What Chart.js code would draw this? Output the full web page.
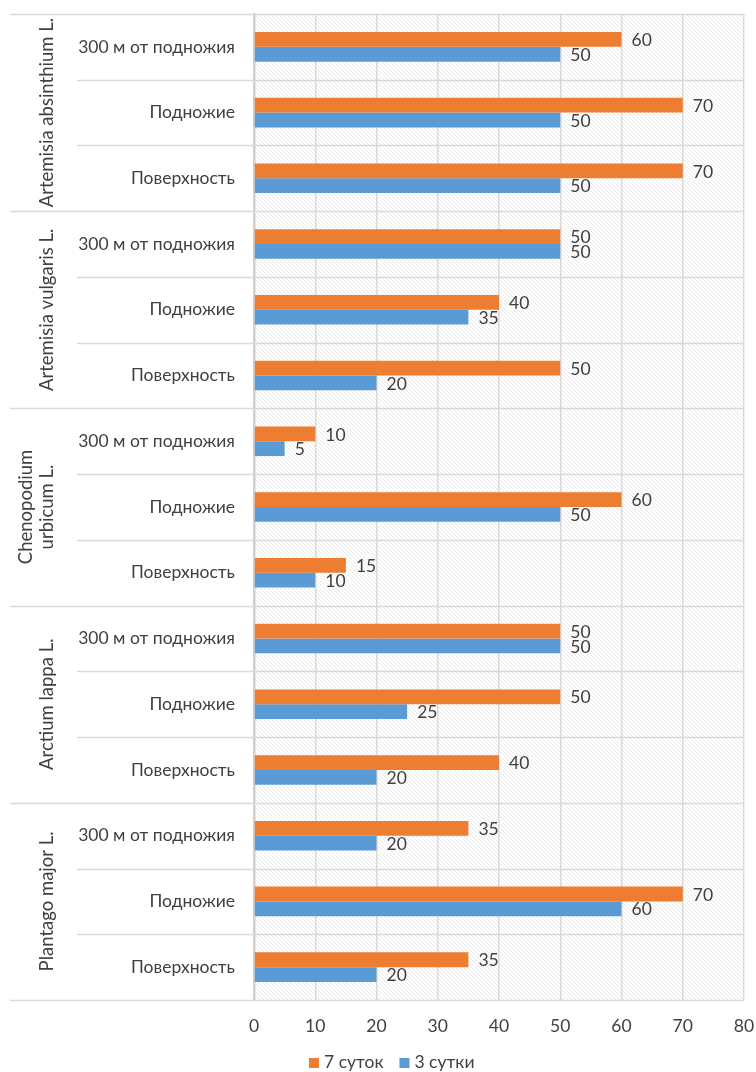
<!DOCTYPE html>
<html>
<head>
<meta charset="utf-8">
<script src="https://cdn.jsdelivr.net/npm/chart.js@4.4.1/dist/chart.umd.min.js"></script>
<style>
  html, body { margin: 0; background: #fff; }
  #wrap { width: 756px; height: 1072px; }
</style>
</head>
<body>
<div id="wrap"><canvas id="chart"></canvas></div>
<script>
// Plant species (outer category), sampling sites (inner category)
const GROUPS = [
  ['Artemisia absinthium L.'],
  ['Artemisia vulgaris L.'],
  ['Chenopodium', 'urbicum L.'],
  ['Arctium lappa L.'],
  ['Plantago major L.'],
];
const SITES = ['300 м от подножия', 'Подножие', 'Поверхность'];

// values, top to bottom
const DAYS_7 = [60, 70, 70, 50, 40, 50, 10, 60, 15, 50, 50, 40, 35, 70, 35];
const DAYS_3 = [50, 50, 50, 50, 35, 20, 5, 50, 10, 50, 25, 20, 20, 60, 20];

const X_MIN = 0;
const X_MAX = 80;
const X_STEP = 10;

const COLORS = {
  orange: '#ed7d31',
  blue: '#5b9bd5',
  text: '#404040',
  grid: '#d9d9d9',
  hatch: '#e4e4e4',
};
const FONT = "Lato, sans-serif";
const FONT_SIZE = 17.5;

const labels = GROUPS.flatMap(() => SITES);

function makeHatch(ctx) {
  const c = document.createElement('canvas');
  c.width = 4; c.height = 4;
  const g = c.getContext('2d');
  g.strokeStyle = COLORS.hatch;
  g.lineWidth = 0.8;
  g.beginPath();
  g.moveTo(-1, -1); g.lineTo(5, 5);
  g.moveTo(-1, 3); g.lineTo(1, 5);
  g.moveTo(3, -1); g.lineTo(5, 1);
  g.stroke();
  return ctx.createPattern(c, 'repeat');
}

const hatchPlugin = {
  id: 'hatch',
  beforeDraw(chart) {
    const { ctx, chartArea: a } = chart;
    ctx.save();
    ctx.fillStyle = makeHatch(ctx);
    ctx.fillRect(a.left, a.top, a.right - a.left, a.bottom - a.top);
    ctx.restore();
  },
  beforeDatasetsDraw(chart) {
    // row separators, longer ones between species
    const { ctx, chartArea: a } = chart;
    const n = labels.length;
    const slot = (a.bottom - a.top) / n;
    ctx.save();
    ctx.strokeStyle = COLORS.grid;
    ctx.lineWidth = 1.5;
    for (let i = 0; i <= n; i++) {
      const y = Math.round(a.top + i * slot) + 0.5;
      ctx.beginPath();
      ctx.moveTo(i % 3 === 0 ? 10 : 77, y);
      ctx.lineTo(a.right, y);
      ctx.stroke();
    }
    ctx.restore();
  },
};

const labelsPlugin = {
  id: 'valueLabels',
  afterDatasetsDraw(chart) {
    const { ctx } = chart;
    ctx.save();
    ctx.font = `${FONT_SIZE}px ${FONT}`;
    ctx.fillStyle = COLORS.text;
    ctx.textBaseline = 'middle';
    ctx.textAlign = 'left';
    chart.data.datasets.forEach((ds, di) => {
      chart.getDatasetMeta(di).data.forEach((el, i) => {
        ctx.fillText(ds.data[i], el.x + 10, el.y + 1);
      });
    });
    ctx.restore();
  },
  afterDraw(chart) {
    const { ctx, chartArea: a } = chart;
    const slot = (a.bottom - a.top) / labels.length;
    ctx.save();
    ctx.fillStyle = COLORS.text;

    // species names, rotated
    ctx.font = `18.5px ${FONT}`;
    ctx.textAlign = 'center';
    ctx.textBaseline = 'middle';
    GROUPS.forEach((lines, g) => {
      const cy = a.top + (g * 3 + 1.5) * slot;
      const xs = lines.length === 1 ? [47] : [26, 47];
      lines.forEach((txt, k) => {
        ctx.save();
        ctx.translate(xs[k], cy);
        ctx.rotate(-Math.PI / 2);
        ctx.fillText(txt, 0, 0);
        ctx.restore();
      });
    });

    // legend
    ctx.font = `${FONT_SIZE}px ${FONT}`;
    ctx.textAlign = 'left';
    let x = 309;
    const y = 1062;
    chart.data.datasets.forEach((ds) => {
      ctx.fillStyle = ds.backgroundColor;
      ctx.fillRect(x, y - 4, 10, 10);
      ctx.fillStyle = COLORS.text;
      ctx.fillText(ds.label, x + 15, y);
      x += 15 + ctx.measureText(ds.label).width + 16;
    });
    ctx.restore();
  },
};

new Chart(document.getElementById('chart'), {
  type: 'bar',
  data: {
    labels,
    datasets: [
      { label: '7 суток', data: DAYS_7, backgroundColor: COLORS.orange },
      { label: '3 сутки', data: DAYS_3, backgroundColor: COLORS.blue },
    ],
  },
  options: {
    indexAxis: 'y',
    responsive: true,
    maintainAspectRatio: false,
    animation: false,
    categoryPercentage: 0.45,
    barPercentage: 1.0,
    layout: { padding: { top: 14, right: 12, left: 0, bottom: 0 } },
    plugins: {
      legend: { display: false },
      tooltip: { enabled: false },
    },
    scales: {
      x: {
        min: X_MIN,
        max: X_MAX,
        ticks: {
          stepSize: X_STEP,
          padding: 16,
          color: COLORS.text,
          font: { family: FONT, size: FONT_SIZE },
        },
        grid: { color: COLORS.grid, lineWidth: 1.5, drawTicks: false },
        border: { display: false },
        afterFit: (s) => { s.height = 72; s.paddingLeft = 0; s.paddingRight = 0; },
      },
      y: {
        ticks: {
          padding: 19,
          color: COLORS.text,
          font: { family: FONT, size: FONT_SIZE },
        },
        grid: { display: false, drawTicks: false },
        border: { display: true, color: '#d0d0d0', width: 2.5 },
        afterFit: (s) => { s.width = 254; s.paddingTop = 0; s.paddingBottom = 0; },
      },
    },
  },
  plugins: [hatchPlugin, labelsPlugin],
});
</script>
</body>
</html>
